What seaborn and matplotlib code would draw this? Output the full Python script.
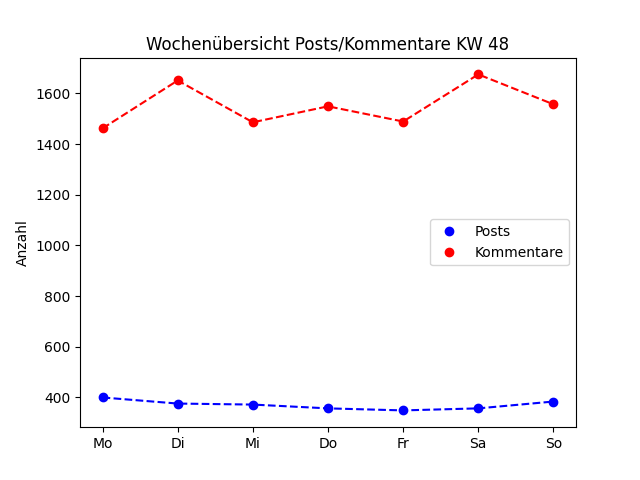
import matplotlib
matplotlib.use("Agg")
import matplotlib.pyplot as plt
import seaborn as sns

days = ["Mo", "Di", "Mi", "Do", "Fr", "Sa", "So"]
posts = [400, 376, 372, 357, 349, 357, 384]
kommentare = [1462, 1651, 1486, 1549, 1489, 1675, 1557]

fig, ax = plt.subplots(figsize=(6.4, 4.8), dpi=100)
x = list(range(len(days)))
sns.lineplot(x=x, y=posts, ax=ax, color="blue", linestyle="--")
sns.lineplot(x=x, y=kommentare, ax=ax, color="red", linestyle="--")
ax.plot(x, posts, "o", color="blue", label="Posts")
ax.plot(x, kommentare, "o", color="red", label="Kommentare")
ax.set_xticks(x)
ax.set_xticklabels(days)
ax.set_ylabel("Anzahl")
ax.set_title("Wochenübersicht Posts/Kommentare KW 48")
ax.legend(loc="center right")
fig.savefig("out.png", dpi=100)
